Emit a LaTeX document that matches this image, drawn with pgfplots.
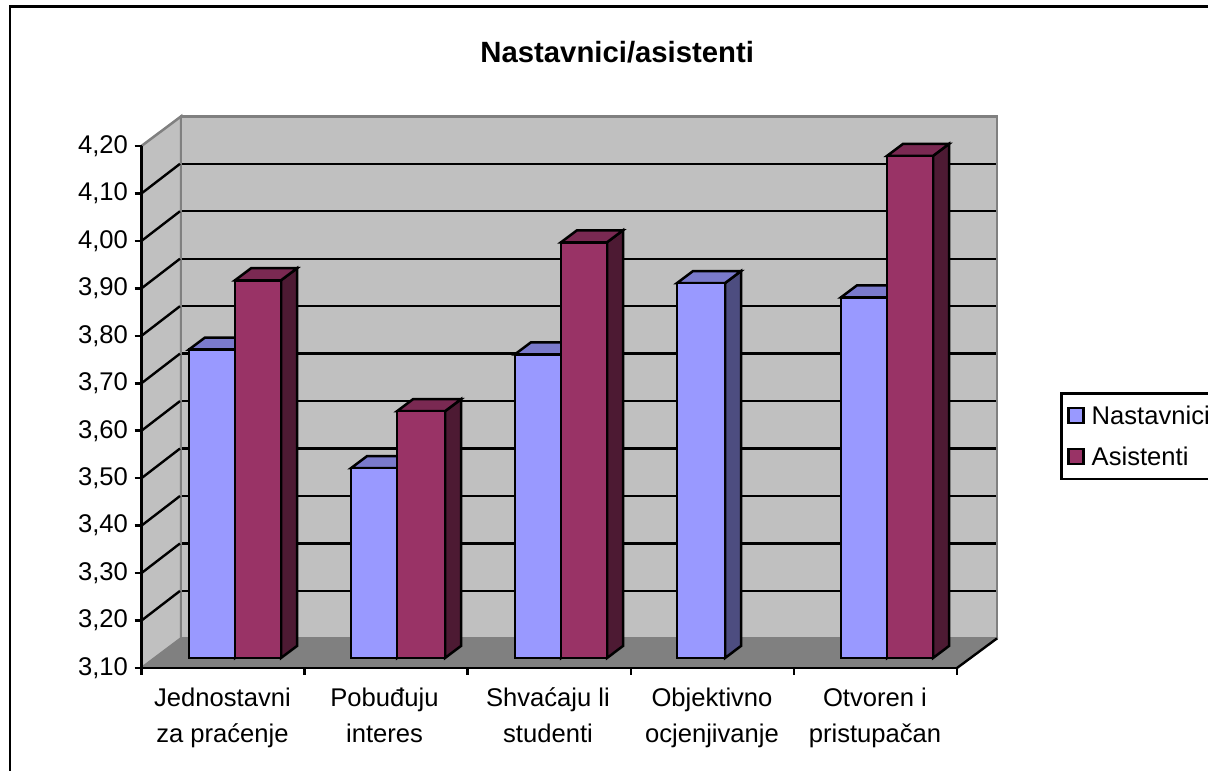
\documentclass[border=0pt]{standalone}
\usepackage{fontspec}
\setmainfont{Liberation Sans}
\usepackage{pgfplots}
\pgfplotsset{compat=1.18}
\definecolor{bluef}{HTML}{9999FF}
\definecolor{bluet}{HTML}{7A7ACC}
\definecolor{blues}{HTML}{4D4D80}
\definecolor{redf}{HTML}{993366}
\definecolor{redt}{HTML}{7A2952}
\definecolor{reds}{HTML}{4D1A33}
\definecolor{wall}{HTML}{C0C0C0}
\definecolor{floorc}{HTML}{808080}
\pgfplotsset{
  face/.style={draw=black,line width=2.5pt,line join=miter,mark=none,forget plot},
  bf/.style={face,fill=bluef,yshift=10pt},
  bt/.style={face,fill=bluet,yshift=10pt},
  bs/.style={face,fill=blues,yshift=10pt},
  rf/.style={face,fill=redf,yshift=10pt},
  rt/.style={face,fill=redt,yshift=10pt},
  rs/.style={face,fill=reds,yshift=10pt},
  gridl/.style={forget plot,mark=none,black,line width=2.4pt},
}
\begin{document}
\begin{tikzpicture}[x=1pt,y=1pt]
\useasboundingbox (0,0) rectangle (1208,771);
\fill[white] (0,0) rectangle (1208,771);
\draw[line width=2.5pt,black] (1212,764.5) -- (10,764.5) -- (10,-4);
\begin{axis}[
  at={(141.5pt,103pt)},anchor=south west,
  scale only axis,width=815.5pt,height=522pt,
  xmin=141.5,xmax=957,ymin=3.1,ymax=4.2,
  clip=false,axis on top,
  axis x line*=bottom,axis y line*=left,
  axis line style={-,line width=2.5pt,black},
  tick align=outside,
  major tick length=7pt,
  tick style={line width=2.5pt,black},
  ytick={3.1,3.2,3.3,3.4,3.5,3.6,3.7,3.8,3.9,4.0,4.1,4.2},
  yticklabel style={/pgf/number format/.cd,fixed,fixed zerofill,precision=2,use comma,assume math mode=true,/tikz/.cd,xshift=-3pt},
  tick label style={font=\fontsize{25.6}{36}\selectfont,black},
  xtick={141.5,304.6,467.7,630.8,793.9,957},
  xticklabels={},
  extra x ticks={222.5,384.5,548,712,875},
  extra x tick labels={{Jednostavni\\za praćenje},{Pobuđuju\\interes},{Shvaćaju li\\studenti},{Objektivno\\ocjenjivanje},{Otvoren i\\pristupačan}},
  extra x tick style={tick style={draw=none},tick label style={align=center,yshift=-9pt}},
  title={Nastavnici/asistenti},
  title style={at={(0.5,1)},anchor=center,xshift=68pt,yshift=88pt,font=\fontsize{29.3}{34}\selectfont\bfseries},
  legend style={at={(axis cs:1060,3.6807)},anchor=north west,draw=black,line width=2.5pt,
    font=\fontsize{25.6}{30}\selectfont,inner xsep=6pt,inner ysep=10pt,row sep=17pt,
    legend cell align=left,/tikz/every even column/.append style={column sep=4pt}},
  legend image code/.code={\draw[#1,line width=2.4pt] (0pt,-7.5pt) rectangle (15pt,7.5pt);\path (20pt,0pt);},
]
\addlegendimage{fill=bluef,draw=black}
\addlegendentry{Nastavnici}
\addlegendimage{fill=redf,draw=black}
\addlegendentry{Asistenti}
% walls and floor
\addplot[forget plot,mark=none,fill=wall,draw=floorc,line width=2.5pt] coordinates {(141.5,3.1)(141.5,4.2)(181,4.2624)(181,3.1624)} --cycle;
\addplot[forget plot,mark=none,fill=wall,draw=floorc,line width=2.5pt] coordinates {(181,3.1624)(181,4.2624)(997,4.2624)(997,3.1624)} --cycle;
\addplot[forget plot,mark=none,fill=floorc,draw=floorc,line width=1pt] coordinates {(141.5,3.1)(181,3.1624)(997,3.1624)(957,3.1)} --cycle;
\addplot[gridl] coordinates {(957,3.1)(997,3.1624)};
% grid on the walls
\addplot[gridl] coordinates {(141.5,3.2)(180,3.2624)}; \addplot[gridl] coordinates {(182,3.2624)(996,3.2624)};
\addplot[gridl] coordinates {(141.5,3.3)(180,3.3624)}; \addplot[gridl] coordinates {(182,3.3624)(996,3.3624)};
\addplot[gridl] coordinates {(141.5,3.4)(180,3.4624)}; \addplot[gridl] coordinates {(182,3.4624)(996,3.4624)};
\addplot[gridl] coordinates {(141.5,3.5)(180,3.5624)}; \addplot[gridl] coordinates {(182,3.5624)(996,3.5624)};
\addplot[gridl] coordinates {(141.5,3.6)(180,3.6624)}; \addplot[gridl] coordinates {(182,3.6624)(996,3.6624)};
\addplot[gridl] coordinates {(141.5,3.7)(180,3.7624)}; \addplot[gridl] coordinates {(182,3.7624)(996,3.7624)};
\addplot[gridl] coordinates {(141.5,3.8)(180,3.8624)}; \addplot[gridl] coordinates {(182,3.8624)(996,3.8624)};
\addplot[gridl] coordinates {(141.5,3.9)(180,3.9624)}; \addplot[gridl] coordinates {(182,3.9624)(996,3.9624)};
\addplot[gridl] coordinates {(141.5,4.0)(180,4.0624)}; \addplot[gridl] coordinates {(182,4.0624)(996,4.0624)};
\addplot[gridl] coordinates {(141.5,4.1)(180,4.1624)}; \addplot[gridl] coordinates {(182,4.1624)(996,4.1624)};
% group 1
\addplot[bs] coordinates {(235,3.1)(235,3.75)(251,3.7753)(251,3.1253)} --cycle;
\addplot[bt] coordinates {(189,3.75)(235,3.75)(251,3.7753)(205,3.7753)} --cycle;
\addplot[bf] coordinates {(189,3.1)(189,3.75)(235,3.75)(235,3.1)} --cycle;
\addplot[rs] coordinates {(281,3.1)(281,3.896)(297,3.9213)(297,3.1253)} --cycle;
\addplot[rt] coordinates {(235,3.896)(281,3.896)(297,3.9213)(251,3.9213)} --cycle;
\addplot[rf] coordinates {(235,3.1)(235,3.896)(281,3.896)(281,3.1)} --cycle;
% group 2
\addplot[bs] coordinates {(397,3.1)(397,3.50)(413,3.5253)(413,3.1253)} --cycle;
\addplot[bt] coordinates {(351,3.50)(397,3.50)(413,3.5253)(367,3.5253)} --cycle;
\addplot[bf] coordinates {(351,3.1)(351,3.50)(397,3.50)(397,3.1)} --cycle;
\addplot[rs] coordinates {(445,3.1)(445,3.62)(461,3.6453)(461,3.1253)} --cycle;
\addplot[rt] coordinates {(397,3.62)(445,3.62)(461,3.6453)(413,3.6453)} --cycle;
\addplot[rf] coordinates {(397,3.1)(397,3.62)(445,3.62)(445,3.1)} --cycle;
% group 3
\addplot[bs] coordinates {(561,3.1)(561,3.74)(577,3.7653)(577,3.1253)} --cycle;
\addplot[bt] coordinates {(515,3.74)(561,3.74)(577,3.7653)(531,3.7653)} --cycle;
\addplot[bf] coordinates {(515,3.1)(515,3.74)(561,3.74)(561,3.1)} --cycle;
\addplot[rs] coordinates {(607,3.1)(607,3.976)(623,4.0013)(623,3.1253)} --cycle;
\addplot[rt] coordinates {(561,3.976)(607,3.976)(623,4.0013)(577,4.0013)} --cycle;
\addplot[rf] coordinates {(561,3.1)(561,3.976)(607,3.976)(607,3.1)} --cycle;
% group 4
\addplot[bs] coordinates {(725,3.1)(725,3.89)(741,3.9153)(741,3.1253)} --cycle;
\addplot[bt] coordinates {(677,3.89)(725,3.89)(741,3.9153)(693,3.9153)} --cycle;
\addplot[bf] coordinates {(677,3.1)(677,3.89)(725,3.89)(725,3.1)} --cycle;
% group 5
\addplot[bs] coordinates {(887,3.1)(887,3.86)(903,3.8853)(903,3.1253)} --cycle;
\addplot[bt] coordinates {(841,3.86)(887,3.86)(903,3.8853)(857,3.8853)} --cycle;
\addplot[bf] coordinates {(841,3.1)(841,3.86)(887,3.86)(887,3.1)} --cycle;
\addplot[rs] coordinates {(933,3.1)(933,4.158)(949,4.1833)(949,3.1253)} --cycle;
\addplot[rt] coordinates {(887,4.158)(933,4.158)(949,4.1833)(903,4.1833)} --cycle;
\addplot[rf] coordinates {(887,3.1)(887,4.158)(933,4.158)(933,3.1)} --cycle;
\end{axis}
\end{tikzpicture}
\end{document}
